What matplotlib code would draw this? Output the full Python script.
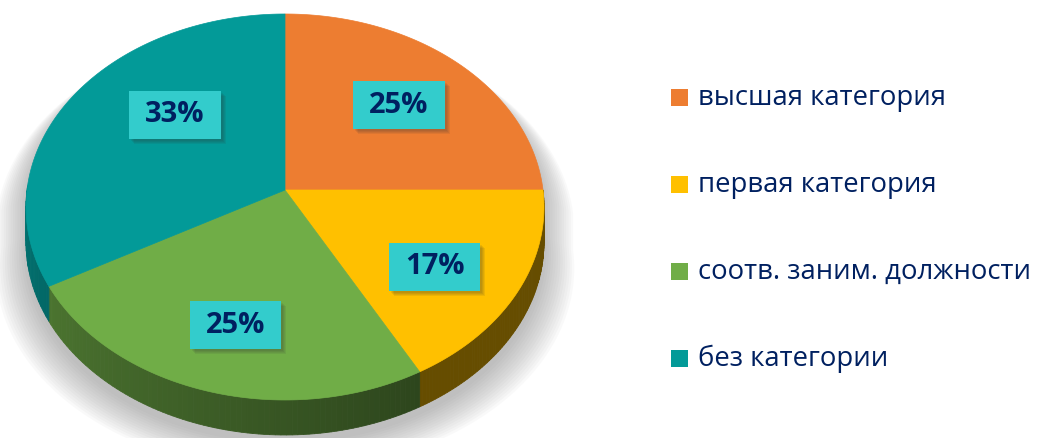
import numpy as np
import matplotlib
matplotlib.use("Agg")
import matplotlib.pyplot as plt
from matplotlib.patches import Polygon, Rectangle

plt.rcParams['font.family'] = ['Open Sans', 'DejaVu Sans']

# данные
categories = ['высшая категория', 'первая категория',
              'соотв. заним. должности', 'без категории']
shares = [25, 17, 25, 33]
labels = ['25%', '17%', '25%', '33%']
colors = ['#ED7D31', '#FFC000', '#70AD47', '#039A98']
label_radius = [0.65, 0.68, 0.69, 0.60]
label_turn = [0, -4, 1, -12]   # сдвиг подписи от середины сектора, градусы

NAVY = '#002060'
BOX = '#33CCCC'

# геометрия "3D" круга в пикселях
cx, cy = 285, 190
sx, sy = 258, 191.5
k = 0.088          # перспектива
depth = 35


def proj(theta, r=1.0, drop=0.0):
    t = np.radians(theta)
    u, v = r * np.cos(t), r * np.sin(t)
    w = 1 + k * v
    return cx + sx * u / w, cy - sy * v / w + drop


def shade(theta):
    return np.clip(0.4 + 0.3 * (300 - theta) / 100, 0.4, 0.8)


fig = plt.figure(figsize=(10.4, 4.38), dpi=100)
ax = fig.add_axes([0, 0, 1, 1])
ax.set_xlim(0, 1040)
ax.set_ylim(438, 0)
ax.axis('off')

# границы секторов: от 12 часов по часовой стрелке
bounds = 90 - 360 * np.cumsum([0] + shares) / sum(shares)

# мягкая тень
top = np.linspace(0, 180, 90)
bot = np.linspace(180, 360, 90)
sil = [proj(t) for t in top] + [proj(t, drop=depth) for t in bot]
sil = np.array(sil)
for i in range(14):
    s = 1.0 + 0.009 * i
    pts = sil.copy()
    pts[:, 0] = cx + (pts[:, 0] - cx) * s
    pts[:, 1] = cy + (pts[:, 1] - cy) * (1 + 0.004 * i) + 8 + 1.2 * i
    ax.add_patch(Polygon(pts, closed=True, fc='#808080', ec='none',
                         alpha=0.045, zorder=1))

# боковая стенка
for i in range(len(shares)):
    a0, a1 = bounds[i + 1], bounds[i]
    angs = np.linspace(a0, a1, 80)
    rgb = np.array(matplotlib.colors.to_rgb(colors[i]))
    for t1, t2 in zip(angs[:-1], angs[1:]):
        tm = (t1 + t2) / 2 % 360
        if not (178 <= tm <= 362):
            continue
        p1, p2 = proj(t1), proj(t2)
        q1, q2 = proj(t1, drop=depth), proj(t2, drop=depth)
        ax.add_patch(Polygon([p1, p2, q2, q1], closed=True,
                             fc=rgb * shade(tm), ec=rgb * shade(tm),
                             lw=0.6, zorder=2))

# верхняя грань
for i in range(len(shares)):
    angs = np.linspace(bounds[i], bounds[i + 1], 120)
    pts = [proj(0, r=0)] + [proj(t) for t in angs]
    ax.add_patch(Polygon(pts, closed=True, fc=colors[i], ec=colors[i],
                         lw=0.5, zorder=3))

# подписи
fig.canvas.draw()
renderer = fig.canvas.get_renderer()
for i, lab in enumerate(labels):
    mid = (bounds[i] + bounds[i + 1]) / 2 + label_turn[i]
    x, y = proj(mid, r=label_radius[i])
    t = ax.text(x, y, lab, ha='center', va='center', fontsize=21,
                fontweight='bold', color=NAVY, zorder=7)
    ext = t.get_window_extent(renderer)
    bw, bh = ext.width + 32, 48
    for j in range(4):
        off = 2 + j
        ax.add_patch(Rectangle((x - bw / 2 + off, y - bh / 2 + off), bw, bh,
                               fc='#333333', ec='none', alpha=0.09, zorder=5))
    ax.add_patch(Rectangle((x - bw / 2, y - bh / 2), bw, bh,
                           fc=BOX, ec='none', zorder=6))

# легенда
for i, name in enumerate(categories):
    yc = 97 + 87 * i
    ax.add_patch(Rectangle((671, yc - 8.5), 17, 17, fc=colors[i], ec='none'))
    ax.text(698, yc + 8, name, ha='left', va='baseline', fontsize=19.8,
            color=NAVY)

fig.savefig('out.png', dpi=100)
